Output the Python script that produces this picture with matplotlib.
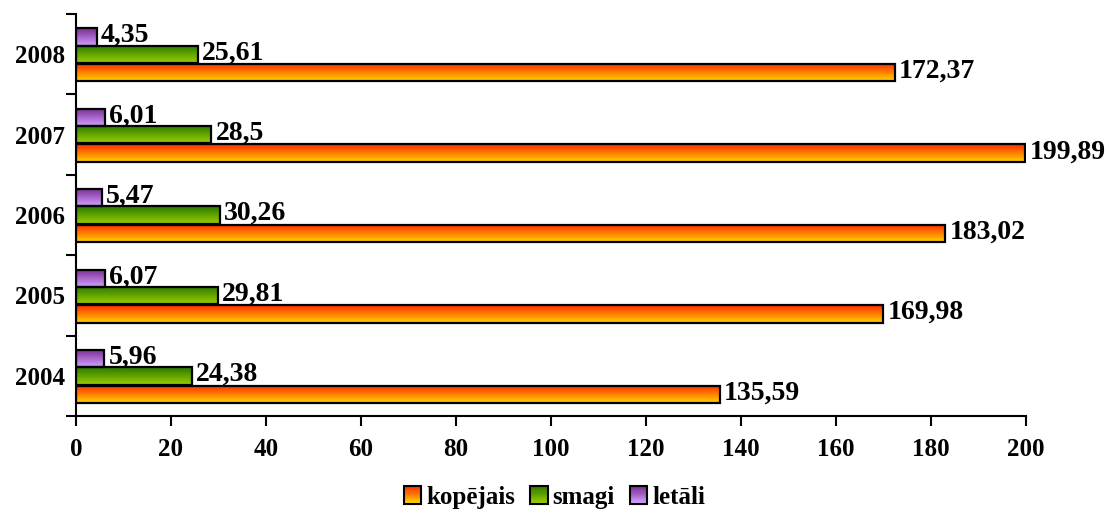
import matplotlib.pyplot as plt
import numpy as np
from matplotlib.colors import LinearSegmentedColormap
from matplotlib.patches import Patch, Rectangle
from matplotlib.legend_handler import HandlerBase
from matplotlib.ticker import FixedLocator

plt.rcParams['font.family'] = ['Liberation Serif', 'DejaVu Serif']
plt.rcParams['font.weight'] = 'bold'

# data
years = ['2004', '2005', '2006', '2007', '2008']
kopejais = [135.59, 169.98, 183.02, 199.89, 172.37]
smagi = [24.38, 29.81, 30.26, 28.5, 25.61]
letali = [5.96, 6.07, 5.47, 6.01, 4.35]

series = [
    ('kopējais', kopejais, -0.23, ('#FF2A00', '#FFD200')),
    ('smagi', smagi, 0.0, ('#2A7A00', '#9ACD00')),
    ('letāli', letali, 0.215, ('#7B2A90', '#D0A0FF')),
]
h = 0.215


class GradHandler(HandlerBase):
    # legend square filled with a vertical gradient
    def __init__(self, cmap):
        super().__init__()
        self.cmap = cmap

    def create_artists(self, legend, orig_handle, xdescent, ydescent,
                       width, height, fontsize, trans):
        n = 16
        arts = []
        for i in range(n):
            r = Rectangle((-xdescent, -ydescent + height * (n - 1 - i) / n),
                          width, height / n + 0.3,
                          facecolor=self.cmap(i / (n - 1)), edgecolor='none',
                          transform=trans)
            arts.append(r)
        arts.append(Rectangle((-xdescent, -ydescent), width, height,
                              facecolor='none', edgecolor='black',
                              linewidth=1.5, transform=trans))
        return arts


fig = plt.figure(figsize=(11.09, 5.28), dpi=100)
ax = fig.add_axes([0.0685, 0.212, 0.8565, 0.7615])

y = np.arange(len(years))
grad = np.linspace(0, 1, 64).reshape(-1, 1)

handles, hmap = [], {}
for name, vals, off, (c_top, c_bot) in series:
    cmap = LinearSegmentedColormap.from_list(name, [c_top, c_bot])
    bars = ax.barh(y + off, vals, height=h, facecolor='none', edgecolor='black',
                   linewidth=1.6, zorder=3)
    for b, v in zip(bars, vals):
        x0, y0 = b.get_x(), b.get_y()
        w, hh = b.get_width(), b.get_height()
        ax.imshow(grad, cmap=cmap, aspect='auto', origin='upper',
                  extent=[x0, x0 + w, y0, y0 + hh], zorder=2)
        ax.annotate(f'{v:g}'.replace('.', ','), (x0 + w, y0 + hh / 2),
                    xytext=(3, 1), textcoords='offset points',
                    ha='left', va='center', fontsize=20, fontweight='bold')
    p = Patch(label=name)
    handles.append(p)
    hmap[p] = GradHandler(cmap)

ax.set_xlim(0, 200)
ax.set_ylim(-0.5, 4.5)
ax.set_xticks(np.arange(0, 201, 20))
ax.set_yticks(y)
ax.set_yticklabels(years)
ax.yaxis.set_minor_locator(FixedLocator(np.arange(-0.5, 5, 1)))
ax.tick_params(axis='y', which='major', length=0, pad=8, labelsize=18)
ax.tick_params(axis='y', which='minor', length=7, width=1.5)
ax.tick_params(axis='x', length=7, width=1.5, pad=9, labelsize=18)

for s in ['top', 'right']:
    ax.spines[s].set_visible(False)
for s in ['left', 'bottom']:
    ax.spines[s].set_linewidth(1.5)

fig.legend(handles=handles, handler_map=hmap, loc='center',
           bbox_to_anchor=(0.5, 0.058), ncol=3, frameon=False, fontsize=18,
           handlelength=0.7, handleheight=0.7, handletextpad=0.2,
           columnspacing=0.6)

fig.savefig('out.png', dpi=100)
